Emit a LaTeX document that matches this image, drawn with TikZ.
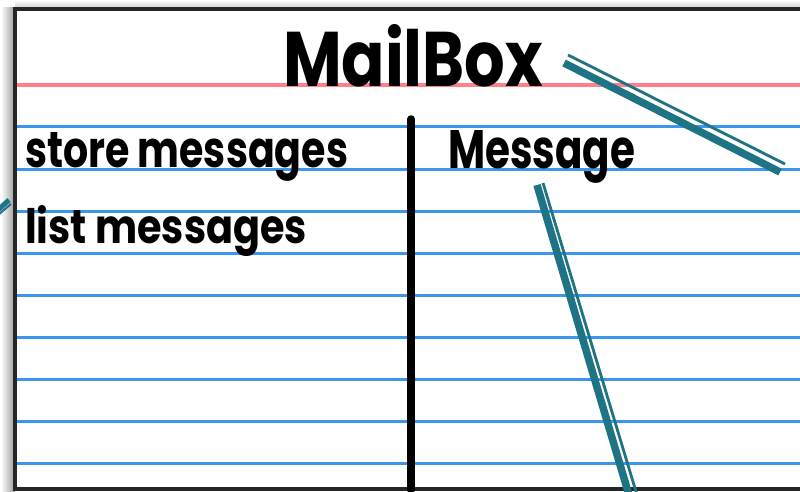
\documentclass[tikz,border=0pt]{standalone}
\usepackage{fontspec}
\usepackage{graphicx}
\newfontfamily\hand{Poppins}
\definecolor{ruleblue}{HTML}{3C96F0}
\definecolor{rulered}{HTML}{FF7F8C}
\definecolor{linkteal}{HTML}{1E7385}
\tikzset{
  blueline/.style={draw=ruleblue, line width=3pt},
  redline/.style={draw=rulered, line width=3.2pt},
  cardtext/.style={anchor=base west, inner sep=0pt, outer sep=0pt},
  thickteal/.style={draw=linkteal, line width=7.5pt},
  thinteal/.style={draw=linkteal, line width=2.8pt},
}
\begin{document}
\begin{tikzpicture}[x=1pt,y=-1pt]
\useasboundingbox (0,0) rectangle (800,492);
\fill[white] (0,0) rectangle (800,492);
% shadow
\shade[left color=white, right color=black!40] (1,8) rectangle (15,492);
\shade[top color=white, bottom color=black!22] (15,0) rectangle (800,9);
% card
\fill[white] (15,9) rectangle (810,489);
% ruling
\draw[redline] (15,85) -- (800,85);
\foreach \y in {127,169,211,253,295,337,379,421,463}
  \draw[blueline] (15,\y) -- (800,\y);
% border
\draw[black!85, line width=3.2pt] (810,9) -- (15,9) -- (15,489) -- (810,489);
% divider
\coordinate (divtop) at (411,119);
\coordinate (divbot) at (411,490);
\draw[black, line width=7.5pt, line cap=round] (divtop) -- (divbot);
% texts
\node[cardtext] (title) at (283,87) {\resizebox{260pt}{62pt}{\hand\bfseries MailBox}};
\node[cardtext] (resp1) at (25,167) {\resizebox{323pt}{35pt}{\hand\bfseries store messages}};
\node[cardtext] (resp2) at (25,243) {\resizebox{282pt}{38pt}{\hand\bfseries list messages}};
\node[cardtext] (collab) at (448,168) {\resizebox{187pt}{38pt}{\hand\bfseries Message}};
% teal connectors
\coordinate (a1) at (564,63);
\coordinate (a2) at (780,172);
\coordinate (b1) at (568,55);
\coordinate (b2) at (785,164);
\draw[thickteal] (a1) -- (a2);
\draw[thinteal] (b1) -- (b2);
\coordinate (c1) at (537,185);
\coordinate (c2) at (629,495);
\coordinate (d1) at (543,183);
\coordinate (d2) at (637,495);
\draw[thickteal] (c1) -- (c2);
\draw[thinteal] (d1) -- (d2);
\coordinate (e1) at (-2,210);
\coordinate (e2) at (9,200);
\coordinate (f1) at (-2,215);
\coordinate (f2) at (11,204);
\draw[thickteal, line width=5pt] (e1) -- (e2);
\draw[thinteal, line width=2pt] (f1) -- (f2);
\end{tikzpicture}
\end{document}
